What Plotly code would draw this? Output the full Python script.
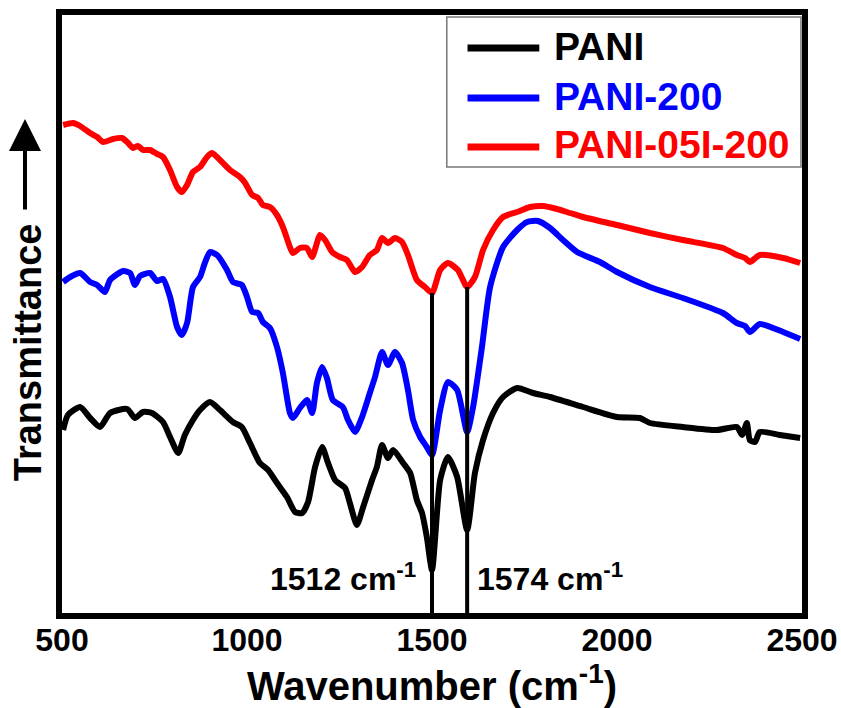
import numpy as np
import plotly.graph_objects as go

# ---------------- data (transmittance in arbitrary units) -------------
pani_wn = [503, 516, 549, 576, 603, 630, 676, 697, 719, 743, 773, 792, 814, 832, 854, 873,
           900, 927, 962, 986, 1008, 1035, 1057, 1081, 1108, 1130, 1149, 1165, 1184, 1203,
           1219, 1238, 1265, 1278, 1297, 1314, 1338, 1351, 1365, 1381, 1395, 1422, 1441,
           1459, 1473, 1486, 1500, 1522, 1543, 1568, 1595, 1616, 1638, 1665, 1692, 1730,
           1773, 1819, 1908, 2000, 2062, 2089, 2178, 2270, 2324, 2338, 2351, 2359, 2373,
           2386, 2440, 2495]
pani_t = [183, 198, 206, 195, 186, 200, 204, 195, 201, 200, 191, 176, 160, 178, 193, 203,
          211, 203, 191, 186, 170, 150, 143, 130, 116, 101, 100, 111, 146, 166,
          150, 133, 125, 110, 88, 106, 133, 146, 168, 155, 163, 150, 140,
          113, 100, 76, 43, 133, 156, 136, 83, 140, 173, 200, 216, 225,
          220, 216, 206, 196, 195, 190, 186, 183, 186, 178, 190, 173, 171,
          181, 178, 175]

pani200_wn = [503, 522, 549, 576, 595, 616, 630, 665, 684, 697, 711, 738, 757, 773, 792, 811,
              824, 838, 854, 873, 886, 900, 919, 946, 962, 986, 1000, 1014, 1030, 1043, 1062,
              1081, 1097, 1116, 1124, 1143, 1162, 1176, 1189, 1203, 1216, 1232, 1259, 1273,
              1292, 1311, 1332, 1346, 1365, 1381, 1400, 1419, 1435, 1449, 1468, 1486, 1500,
              1522, 1543, 1568, 1595, 1611, 1635, 1657, 1692, 1730, 1757, 1786, 1819, 1854,
              1892, 1954, 2000, 2089, 2178, 2286, 2324, 2346, 2359, 2386, 2449, 2495]
pani200_t = [331, 336, 340, 331, 328, 321, 333, 342, 340, 328, 337, 340, 332, 334, 316, 286,
             278, 290, 326, 336, 350, 361, 358, 343, 331, 328, 316, 301, 300, 291, 285,
             266, 240, 200, 195, 205, 213, 200, 230, 246, 235, 213, 206, 193,
             181, 196, 220, 236, 261, 248, 261, 250, 223, 193, 176, 166, 158,
             203, 231, 223, 181, 206, 266, 326, 366, 383, 391, 392, 385, 373,
             361, 351, 341, 326, 315, 300, 290, 287, 281, 289, 281, 274]

pani05_wn = [503, 530, 549, 576, 595, 611, 638, 662, 676, 692, 705, 719, 738, 757, 773, 792,
             811, 824, 838, 854, 873, 892, 905, 919, 935, 954, 981, 995, 1014, 1030, 1043,
             1062, 1081, 1097, 1116, 1124, 1143, 1162, 1176, 1189, 1197, 1211, 1230, 1251,
             1270, 1292, 1311, 1332, 1351, 1365, 1381, 1400, 1419, 1435, 1459, 1481, 1500,
             1522, 1543, 1570, 1595, 1616, 1638, 1665, 1692, 1730, 1765, 1800, 1838, 1873,
             1908, 2000, 2089, 2178, 2286, 2324, 2346, 2359, 2386, 2449, 2495]
pani05_t = [488, 490, 487, 480, 476, 471, 474, 475, 471, 465, 467, 463, 463, 459, 456, 443,
            426, 421, 428, 441, 446, 456, 460, 456, 450, 443, 436, 430, 418, 415, 408,
            406, 398, 386, 366, 360, 365, 365, 356, 370, 378, 373, 361, 356,
            353, 341, 346, 358, 363, 375, 370, 375, 371, 358, 333, 326, 320,
            343, 350, 343, 326, 336, 363, 383, 396, 401, 406, 407, 404, 400,
            396, 388, 380, 373, 365, 358, 355, 351, 358, 355, 350]

series_names = ["PANI", "PANI-200", "PANI-05I-200"]
series_colors = ["#000000", "#0000ff", "#ff0000"]

marked_peaks = [1500, 1595]
peak_labels = ["1512 cm<sup>-1</sup>", "1574 cm<sup>-1</sup>"]

x_ticks = [500, 1000, 1500, 2000, 2500]

FONT = "Arial, Liberation Sans, sans-serif"

fig = go.Figure()
for wn, t, name, col in zip([pani_wn, pani200_wn, pani05_wn],
                            [pani_t, pani200_t, pani05_t],
                            series_names, series_colors):
    fig.add_trace(go.Scatter(
        x=wn, y=t, mode="lines", line=dict(color=col, width=6, shape="spline", smoothing=0.6),
        name=name, showlegend=False))

# vertical marker lines from axis bottom up to the red curve
for pk in marked_peaks:
    ytop = float(np.interp(pk, pani05_wn, pani05_t))
    fig.add_shape(type="line", x0=pk, x1=pk, y0=0, y1=ytop, xref="x", yref="y",
                  line=dict(color="black", width=4), layer="above")

fig.add_annotation(x=marked_peaks[0], y=36, xref="x", yref="y", text=peak_labels[0],
                   showarrow=False, xanchor="right", xshift=-14,
                   font=dict(family=FONT, size=32, color="black", weight="bold"))
fig.add_annotation(x=marked_peaks[1], y=36, xref="x", yref="y", text=peak_labels[1],
                   showarrow=False, xanchor="left", xshift=8,
                   font=dict(family=FONT, size=32, color="black", weight="bold"))

# legend box (drawn inside the top-right corner of the plot)
fig.add_shape(type="rect", xref="paper", yref="paper", x0=0.520, x1=0.9986, y0=0.746, y1=0.9967,
              line=dict(color="#777777", width=1.5), fillcolor="white", layer="above")
legend_rows = [0.9448, 0.8612, 0.7793]
for name, col, yr in zip(series_names, series_colors, legend_rows):
    fig.add_shape(type="line", xref="paper", yref="paper", x0=0.548, x1=0.645, y0=yr, y1=yr,
                  line=dict(color=col, width=7), layer="above")
    fig.add_annotation(x=0.662, y=yr, xref="paper", yref="paper", text=name, showarrow=False,
                       xanchor="left", yanchor="middle", yshift=2,
                       font=dict(family=FONT, size=39, color=col, weight="bold"))

# y-axis title with arrow
fig.add_annotation(x=-0.046, y=0.436, xref="paper", yref="paper", text="Transmittance",
                   textangle=-90, showarrow=False, xanchor="center", yanchor="middle",
                   font=dict(family=FONT, size=38, color="black", weight="bold"))
fig.add_annotation(x=-0.050, y=0.826, xref="paper", yref="paper", ax=0, ay=92,
                   text="", showarrow=True, arrowhead=2,
                   arrowwidth=4, arrowsize=1.6, arrowcolor="black")

fig.update_layout(
    width=841, height=708,
    margin=dict(l=62, r=39, t=15, b=95, autoexpand=False),
    paper_bgcolor="white", plot_bgcolor="white",
    showlegend=False,
    xaxis=dict(range=[500, 2500], tickvals=x_ticks, ticktext=[str(v) for v in x_ticks],
               showgrid=False, zeroline=False, showline=True, linewidth=6, linecolor="black",
               mirror=True, ticks="", automargin=False, ticklabelstandoff=-6,
               tickfont=dict(family=FONT, size=32, color="black", weight="bold"),
               title=dict(text="Wavenumber (cm<sup>-1</sup>)", standoff=0,
                          font=dict(family=FONT, size=40, color="black", weight="bold"))),
    yaxis=dict(range=[0, 598], showticklabels=False, showgrid=False, zeroline=False,
               showline=True, linewidth=6, linecolor="black", mirror=True, ticks="",
               automargin=False),
)

fig.write_html("out.html")
